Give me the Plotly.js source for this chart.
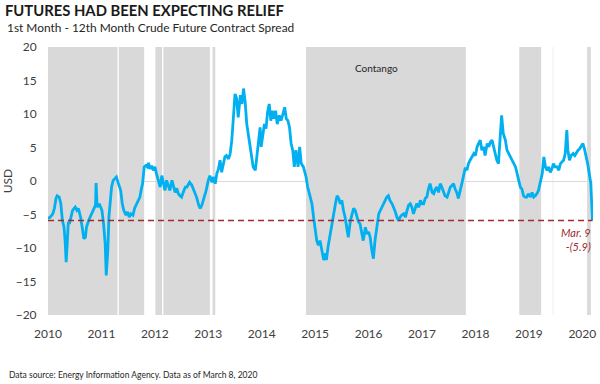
<!DOCTYPE html>
<html>
<head>
<meta charset="utf-8">
<script src="https://cdn.plot.ly/plotly-3.0.1.min.js"></script>
<style>html,body{margin:0;padding:0;background:#fff;}#chart{width:600px;height:384px;}</style>
</head>
<body>
<div id="chart"></div>
<script>
// Decimal-year dates and 1st-12th month spread (USD)
const years = [
2010.00,2010.04,2010.09,2010.12,2010.15,2010.17,2010.21,2010.24,2010.27,2010.30,2010.32,2010.34,2010.36,2010.38,2010.40,2010.43,2010.46,2010.51,2010.54,2010.57,2010.61,2010.65,2010.67,2010.70,2010.72,2010.76,2010.80,2010.85,2010.89,2010.90,2010.92,2010.96,
2011.01,2011.04,2011.07,2011.09,2011.12,2011.14,2011.16,2011.19,2011.22,2011.25,2011.28,2011.31,2011.36,2011.39,2011.42,2011.46,2011.49,2011.52,2011.55,2011.59,2011.62,2011.66,2011.69,2011.72,2011.75,2011.77,2011.80,2011.83,2011.86,2011.88,2011.91,2011.94,2011.97,
2012.00,2012.03,2012.06,2012.10,2012.13,2012.16,2012.19,2012.22,2012.25,2012.28,2012.32,2012.35,2012.38,2012.41,2012.44,2012.47,2012.50,2012.53,2012.57,2012.60,2012.65,2012.69,2012.73,2012.78,2012.82,2012.85,2012.88,2012.92,2012.96,
2013.00,2013.03,2013.07,2013.10,2013.13,2013.16,2013.19,2013.22,2013.25,2013.28,2013.31,2013.34,2013.38,2013.41,2013.44,2013.47,2013.50,2013.53,2013.56,2013.60,2013.63,2013.66,2013.69,2013.72,2013.75,2013.78,2013.81,2013.84,2013.88,2013.91,2013.94,2013.97,2013.99,
2014.02,2014.05,2014.08,2014.11,2014.14,2014.17,2014.20,2014.23,2014.26,2014.29,2014.33,2014.36,2014.39,2014.43,2014.46,2014.49,2014.52,2014.55,2014.58,2014.61,2014.64,2014.68,2014.71,2014.74,2014.78,2014.83,2014.86,2014.91,2014.94,2014.97,
2015.00,2015.03,2015.06,2015.09,2015.12,2015.16,2015.19,2015.21,2015.24,2015.28,2015.31,2015.34,2015.38,2015.41,2015.44,2015.47,2015.50,2015.53,2015.56,2015.59,2015.62,2015.66,2015.69,2015.72,2015.75,2015.78,2015.81,2015.84,2015.87,2015.90,2015.94,2015.97,
2016.00,2016.03,2016.06,2016.09,2016.12,2016.16,2016.19,2016.22,2016.25,2016.28,2016.31,2016.34,2016.37,2016.40,2016.44,2016.47,2016.50,2016.53,2016.56,2016.59,2016.62,2016.66,2016.69,2016.72,2016.75,2016.78,2016.81,2016.84,2016.87,2016.90,2016.94,2016.97,
2017.00,2017.03,2017.06,2017.09,2017.12,2017.15,2017.19,2017.22,2017.25,2017.28,2017.31,2017.34,2017.37,2017.40,2017.43,2017.47,2017.50,2017.53,2017.56,2017.59,2017.62,2017.65,2017.68,2017.72,2017.75,2017.78,2017.81,2017.84,2017.87,2017.90,2017.93,2017.97,
2018.00,2018.03,2018.06,2018.09,2018.12,2018.15,2018.18,2018.22,2018.25,2018.28,2018.31,2018.34,2018.37,2018.40,2018.43,2018.46,2018.49,2018.52,2018.56,2018.59,2018.62,2018.65,2018.68,2018.71,2018.75,2018.78,2018.81,2018.84,2018.87,2018.90,2018.93,2018.96,2018.99,
2019.03,2019.06,2019.09,2019.12,2019.15,2019.18,2019.21,2019.25,2019.28,2019.31,2019.34,2019.37,2019.40,2019.43,2019.46,2019.49,2019.53,2019.56,2019.59,2019.62,2019.65,2019.68,2019.71,2019.73,2019.76,2019.79,2019.83,2019.86,2019.89,2019.92,2019.95,2019.98,
2020.01,2020.04,2020.07,2020.10,2020.13,2020.16,2020.17,2020.18,2020.19
];
const spread = [
-5.6,-5.4,-4.9,-4.1,-2.6,-2.2,-2.4,-3.4,-5.9,-6.9,-8.9,-12.1,-9.3,-6.1,-6.4,-5.4,-4.4,-3.9,-4.4,-4.1,-5.4,-7.4,-8.6,-8.4,-6.9,-5.9,-5.1,-4.4,-3.6,-0.3,-3.9,-3.4,
-4.4,-6.4,-9.3,-14.1,-10.3,-5.4,-2.9,-0.9,0.1,0.3,0.6,-0.2,-1.4,-3.4,-4.4,-5.1,-4.6,-5.4,-4.9,-5.1,-4.1,-3.4,-2.9,-2.4,-1.1,-0.4,2.1,2.3,2.1,2.7,1.8,2.3,1.6,
2.1,1.1,0.1,-0.9,0.8,-0.4,-1.4,0.1,-0.7,-1.4,0.1,-0.9,-1.7,-1.1,-1.9,-2.2,-2.4,-1.7,-0.9,-0.9,-0.2,-0.6,-1.4,-2.4,-3.6,-4.1,-3.6,-2.6,-1.4,
0.1,0.8,-0.2,0.6,-0.4,1.1,1.8,3.1,1.3,2.3,3.6,3.8,3.3,4.1,6.1,9.5,13.0,12.3,9.5,12.8,11.5,13.8,11.8,8.5,7.0,5.1,3.8,2.1,1.6,4.1,6.1,8.0,5.1,
6.5,8.5,7.8,10.3,11.5,9.0,10.5,9.3,10.5,8.5,9.8,9.0,9.8,11.0,9.3,9.0,8.0,5.6,4.6,2.1,4.6,2.1,5.1,2.6,2.1,0.6,-0.9,-2.6,-3.4,-5.4,
-6.9,-8.9,-9.6,-8.9,-10.1,-11.8,-10.8,-11.8,-9.9,-7.9,-6.4,-4.9,-3.4,-2.2,-2.6,-3.4,-2.9,-4.4,-5.4,-6.9,-8.4,-5.9,-4.9,-4.1,-4.4,-5.4,-6.1,-6.4,-7.9,-8.9,-6.9,-7.9,
-7.6,-8.4,-10.3,-11.6,-8.9,-6.4,-4.9,-4.4,-3.9,-3.4,-2.9,-2.4,-2.2,-2.9,-3.4,-3.9,-4.6,-5.4,-5.9,-5.4,-5.1,-4.9,-5.4,-4.4,-3.6,-3.4,-3.9,-4.9,-4.1,-3.4,-3.9,-2.9,
-3.4,-3.4,-2.6,-2.4,-1.2,-0.4,-1.7,-1.9,-1.2,-0.9,-1.7,-0.4,-0.9,-1.7,-2.2,-2.4,-1.7,-0.9,-0.7,-0.4,-1.2,-1.7,-2.6,-0.9,-0.2,0.9,2.0,1.6,2.6,3.1,3.6,4.1,
3.8,5.1,5.6,6.1,4.6,5.1,3.8,5.6,5.1,5.8,6.1,5.1,4.1,3.1,2.6,6.1,9.8,7.1,6.1,4.6,4.1,3.6,3.3,2.6,2.1,1.1,0.1,-0.9,-1.2,-2.2,-2.4,-2.4,-1.9,
-2.4,-1.7,-2.4,-2.2,-1.9,-1.4,-0.4,1.1,3.6,2.1,1.6,2.1,1.3,1.8,2.6,2.1,2.1,1.6,2.6,2.8,3.1,4.1,7.6,4.6,3.1,3.8,4.1,3.8,4.3,4.6,4.8,5.3,
5.6,4.8,3.8,2.6,1.1,-0.4,-2.4,-4.4,-5.9
];
// Contango periods (decimal years, start/end)
const contangoStart = [2010.00, 2011.325, 2012.01, 2012.16, 2013.08, 2014.83, 2018.82, 2019.447, 2020.09];
const contangoEnd   = [2011.30, 2011.80, 2012.135, 2013.03, 2013.13, 2017.82, 2019.23, 2019.455, 2020.16];
const yearTicks = [2010,2011,2012,2013,2014,2015,2016,2017,2018,2019,2020];
const yearLabels = yearTicks.map(String);
const yTicks = [-20,-15,-10,-5,0,5,10,15,20];
const latestDate = 2020.19;
const latestValue = -5.9;

const shapes = contangoStart.map((s, i) => ({
  type: 'rect', xref: 'x', yref: 'y', x0: s, x1: contangoEnd[i], y0: -20, y1: 20,
  fillcolor: '#d9d9d9', line: {width: 0}, layer: 'below'
}));
shapes.push({
  type: 'line', xref: 'x', yref: 'y', x0: 2010, x1: latestDate, y0: latestValue, y1: latestValue,
  line: {color: '#a02c30', width: 1.5, dash: '6px,4px'}, layer: 'above'
});

const font = "Lato, 'Open Sans', sans-serif";
const trace = {
  x: years, y: spread, type: 'scatter', mode: 'lines',
  line: {color: '#00b0f0', width: 2.8}, hoverinfo: 'skip'
};
const layout = {
  width: 600, height: 384,
  margin: {l: 48, r: 7, t: 47, b: 69},
  paper_bgcolor: '#ffffff', plot_bgcolor: '#ffffff',
  showlegend: false,
  font: {family: font, color: '#404040'},
  title: {
    text: '<b>FUTURES HAD BEEN EXPECTING RELIEF</b>',
    font: {family: font, size: 14.8, color: '#1a1a1a'},
    x: 5/600, xanchor: 'left', xref: 'container',
    y: 1 - 10.5/384, yanchor: 'middle', yref: 'container'
  },
  xaxis: {
    range: [2010, 2020.2], tickmode: 'array', tickvals: yearTicks, ticktext: yearLabels,
    showgrid: false, zeroline: false, showline: false,
    ticks: 'outside', ticklen: 8, tickcolor: 'rgba(0,0,0,0)',
    tickfont: {family: font, size: 12, color: '#404040'}, fixedrange: true
  },
  yaxis: {
    range: [-20, 20], tickmode: 'array', tickvals: yTicks,
    showgrid: false, zeroline: true, zerolinecolor: '#d9d9d9', zerolinewidth: 1, showline: false,
    ticks: 'outside', ticklen: 8, tickcolor: 'rgba(0,0,0,0)',
    tickfont: {family: font, size: 12, color: '#404040'},
    title: {text: 'USD', font: {family: font, size: 12, color: '#404040'}, standoff: 1},
    fixedrange: true
  },
  shapes: shapes,
  annotations: [
    {text: '1st Month - 12th Month Crude Future Contract Spread', xref: 'paper', yref: 'paper',
     x: (5-48)/545, y: (315-27)/268, xanchor: 'left', yanchor: 'middle', showarrow: false,
     font: {family: font, size: 11.9, color: '#262626'}},
    {text: 'Contango', xref: 'x', yref: 'y', x: 2016.15, y: 16.9, showarrow: false,
     xanchor: 'center', yanchor: 'middle', font: {family: font, size: 10, color: '#262626'}},
    {text: '<i>Mar. 9<br>-(5.9)</i>', xref: 'x', yref: 'y', x: 2020.2, y: -8.8, showarrow: false,
     xanchor: 'right', yanchor: 'middle', align: 'right',
     font: {family: font, size: 11, color: '#a02c30'}},
    {text: 'Data source: Energy Information Agency. Data as of March 8, 2020', xref: 'paper', yref: 'paper',
     x: (7-48)/545, y: (315-375)/268, xanchor: 'left', yanchor: 'middle', showarrow: false,
     font: {family: font, size: 8.5, color: '#262626'}}
  ]
};
Plotly.newPlot('chart', [trace], layout, {displayModeBar: false, staticPlot: true});
</script>
</body>
</html>
